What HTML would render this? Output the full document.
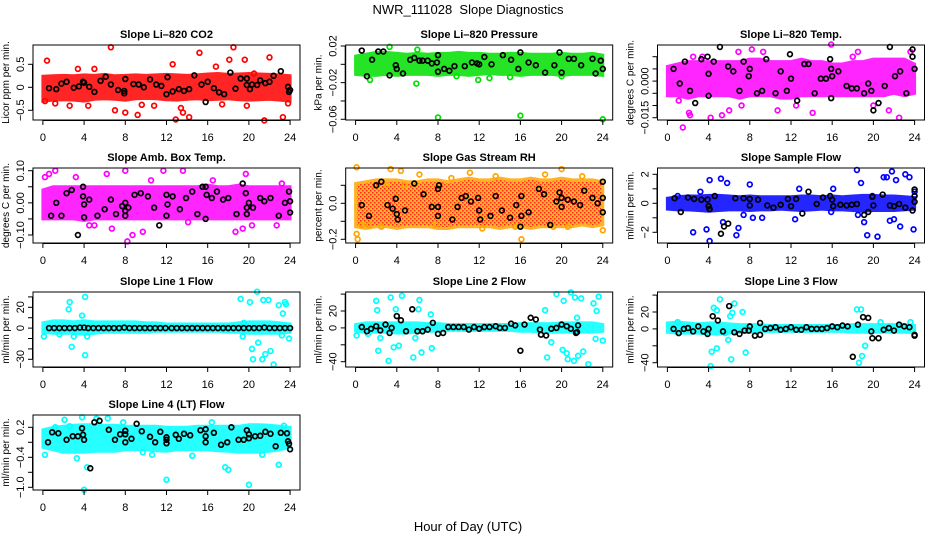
<!DOCTYPE html>
<html><head><meta charset="utf-8">
<style>
html,body{margin:0;padding:0;background:#fff;}
svg{display:block;font-family:"Liberation Sans",sans-serif;}
</style></head>
<body>
<svg id="c" width="936" height="540" viewBox="0 0 936 540">
<defs>
<pattern id="rhPat" width="4" height="4" patternUnits="userSpaceOnUse">
<rect width="4" height="4" fill="#ffa500"/>
<rect x="0" y="0" width="1.5" height="1.5" fill="#ff0000"/>
<rect x="2" y="2" width="1.5" height="1.5" fill="#ff0000"/>
</pattern>
</defs>
<text x="468" y="14" text-anchor="middle" font-size="13" xml:space="preserve">NWR_111028  Slope Diagnostics</text>
<text x="468" y="531" text-anchor="middle" font-size="13">Hour of Day (UTC)</text>
</svg>
<script>
const xTicks=[0,4,8,12,16,20,24];
const bandHours=[0,1,2,3,4,5,6,7,8,9,10,11,12,13,14,15,16,17,18,19,20,21,22,23,24];
// CO2
const co2Low=[-0.3,-0.28,-0.27,-0.28,-0.3,-0.26,-0.25,-0.26,-0.28,-0.25,-0.24,-0.25,-0.27,-0.28,-0.26,-0.25,-0.27,-0.26,-0.25,-0.27,-0.28,-0.27,-0.26,-0.28,-0.3];
const co2High=[0.24,0.25,0.26,0.25,0.27,0.26,0.28,0.25,0.26,0.27,0.26,0.27,0.28,0.27,0.26,0.27,0.29,0.3,0.28,0.29,0.3,0.29,0.28,0.27,0.25];
const co2X=[0.4,6.6,15.2,18.5,18.1,22,7,8,9.2,12.9,13.6,14.2,21.5,23.3,4.4,10.8,17.4,19.8,3.4,5,12.6,19.6,20.5,0.2,23.8,1.2,13.4,16.8,9.6,2.6];
const co2Y=[0.58,0.87,0.75,0.87,0.6,0.65,-0.5,-0.55,-0.6,-0.7,-0.55,-0.65,-0.72,-0.65,-0.4,-0.4,-0.37,-0.4,0.4,0.4,0.5,0.6,0.3,-0.3,-0.35,-0.35,-0.45,0.45,-0.38,-0.4];
const co2BX=[0.6,1.3,1.8,2.3,3,3.5,3.9,4,4.5,5,5.6,6.1,6.6,7.3,7.9,7.9,8,8.8,9.3,9.8,10.4,11,11.5,12,12.1,12.6,13.2,13.7,14.2,14.7,15.4,15.8,16,16.6,17.1,17.6,18.2,18.7,19.2,19.8,19.8,20.1,20.3,20.8,21.1,21.6,22,22.4,23.1,23.8,23.9,24];
const co2BY=[-0.02,-0.04,0.08,0.12,-0.01,0.02,0.12,0.1,0.01,-0.1,0.14,0.23,0.06,-0.06,-0.08,-0.13,0.18,0.07,0.06,0,0.17,0.06,0.03,-0.15,0.22,-0.09,-0.04,-0.08,-0.04,0.26,0.06,-0.32,0.12,-0.02,-0.11,-0.15,0.32,-0.03,0.19,0.19,0.05,-0.04,0.06,0.05,0.15,0.09,0.12,0.25,0.35,0.01,-0.1,-0.06];
// Pressure
const presLow=[-0.011,-0.012,-0.012,-0.011,-0.012,-0.011,-0.011,-0.011,-0.012,-0.011,-0.011,-0.012,-0.011,-0.01,-0.011,-0.011,-0.012,-0.011,-0.011,-0.011,-0.012,-0.011,-0.011,-0.011,-0.012];
const presHigh=[0.009,0.011,0.013,0.013,0.012,0.011,0.012,0.011,0.012,0.012,0.013,0.012,0.012,0.011,0.011,0.012,0.012,0.011,0.011,0.011,0.012,0.011,0.011,0.012,0.01];
const presX=[5.9,8,16,24,11.9,13,1.4,3.3,6,15,9.8,20];
const presY=[-0.021,-0.058,-0.056,-0.06,-0.017,-0.015,-0.017,0.019,0.016,-0.014,-0.013,-0.013];
const presBX=[0.6,1.1,1.6,2.2,2.7,3.3,3.9,4,4.6,5.3,5.7,6.2,6.5,7,7.4,7.9,8,8,8.6,9.1,9.6,10.6,11.3,11.8,12,12.5,13.2,14.3,15.1,15.8,16,16.8,17.5,18.4,19.3,19.8,20,20.7,21.2,21.9,23,23.3,23.8,24];
const presBY=[0.015,-0.013,0.005,0.014,0.014,-0.012,-0.001,-0.005,-0.01,0.005,0.007,0.004,0.004,0.004,0.001,0.002,0.01,-0.008,-0.005,-0.007,-0.002,-0.002,0.002,0.001,0,0.008,0,0.01,0.005,-0.005,0.013,0.002,-0.001,-0.009,-0.001,0.013,-0.009,0.006,0.006,-0.001,0.006,-0.01,0.004,-0.005];
// Li-820 temp
const ltLow=[-0.006,-0.006,-0.007,-0.006,-0.006,-0.006,-0.006,-0.007,-0.006,-0.006,-0.006,-0.007,-0.007,-0.006,-0.006,-0.006,-0.006,-0.006,-0.006,-0.006,-0.006,-0.006,-0.005,-0.006,-0.005];
const ltHigh=[0.006,0.007,0.008,0.008,0.008,0.008,0.008,0.008,0.009,0.009,0.008,0.008,0.008,0.009,0.008,0.008,0.007,0.007,0.008,0.008,0.009,0.009,0.009,0.009,0.007];
const ltX=[1.5,2.2,4.2,6.9,8.2,15.9,22.5,23.6,2.5,1.1,6,7.2,12.5,18.5,20,2.1,5.3,14.1,21.5,10.7,3.4,9.3,18];
const ltY=[-0.019,-0.014,-0.015,0.012,0.013,0.015,-0.015,0.012,0.01,-0.008,-0.012,-0.01,-0.01,0.012,-0.01,-0.013,-0.014,-0.013,-0.012,-0.012,0.01,0.012,0.01];
const ltBX=[0.6,1.2,1.7,2.2,2.7,3.3,3.9,4,4,4.5,5.1,5.9,6.4,7,7.4,7.9,8,8.7,9.2,9.6,10.5,11,11.6,11.9,12,12.6,13.3,13.7,14.3,14.9,15.4,15.8,15.9,16,15.9,16.6,17.4,17.9,18.4,19.1,19.5,19.8,20,20.5,21.1,21.6,22.1,22.6,23.2,23.8,23.8,24];
const ltBY=[0.005,-0.001,0.008,-0.004,-0.009,0.009,0.01,0.003,-0.006,0.008,0.014,0.006,0.004,-0.004,0.008,0.002,0.005,-0.005,-0.004,0.009,-0.005,0.004,-0.004,0.011,0.001,-0.008,0.007,0.007,-0.005,0.001,0.001,0.009,0.005,0.002,-0.007,0.004,-0.002,-0.003,-0.003,-0.005,-0.001,-0.004,-0.012,-0.009,-0.002,0.014,0.002,0.004,-0.005,0.013,0.01,0.005];
// Amb box temp
const abLow=[-0.05,-0.05,-0.05,-0.05,-0.055,-0.05,-0.05,-0.05,-0.05,-0.05,-0.05,-0.05,-0.05,-0.05,-0.05,-0.05,-0.05,-0.05,-0.05,-0.05,-0.05,-0.05,-0.05,-0.05,-0.05];
const abHigh=[0.04,0.05,0.05,0.05,0.05,0.05,0.05,0.05,0.05,0.05,0.05,0.05,0.05,0.05,0.05,0.05,0.055,0.05,0.05,0.055,0.05,0.05,0.05,0.05,0.05];
const abX=[0.6,1.2,4.5,5,6.2,8,8.2,8.7,9.7,11.7,13.6,19.7,18.7,19.4,14.1,23.2,20.3,6.7,0.2,3.2,10.5,16.5,22.7];
const abY=[0.09,0.1,-0.07,-0.07,0.09,0.1,-0.12,-0.1,-0.09,0.1,0.1,0.09,-0.09,-0.08,-0.06,0.06,-0.07,-0.08,0.08,0.08,0.07,0.07,-0.07];
const abBX=[0.8,1.3,1.8,2.3,2.8,3.4,3.9,3.9,4,4,4.5,5.3,6,6.6,7.1,7.7,8,8,8,8.3,8.9,9.5,10.2,10.8,11.3,12,12,12.1,12.6,13.3,13.9,14.5,15,15.5,15.8,15.8,15.9,16.4,16.9,17.5,18,18.8,19.4,19.7,19.8,19.8,20,20.4,21.1,21.5,22.1,22.9,23.5,23.9,24,24];
const abBY=[-0.04,0,-0.04,0.03,0.04,-0.1,0.05,0.02,-0.005,-0.045,0.01,-0.04,-0.02,0.01,-0.035,-0.01,0,-0.025,-0.04,-0.015,0.025,0.03,0.02,-0.015,-0.07,0.025,-0.04,-0.005,0.02,-0.02,0.015,0.035,-0.035,0.05,0.05,-0.05,0.025,0.015,0.035,0.01,0.015,-0.035,0.06,0.03,-0.035,-0.015,0,-0.015,0.015,0.005,0.015,-0.04,0,0.035,0.005,-0.03];
// Gas RH
const rhLow=[-0.13,-0.14,-0.13,-0.13,-0.14,-0.13,-0.13,-0.13,-0.14,-0.14,-0.13,-0.13,-0.13,-0.13,-0.14,-0.13,-0.13,-0.14,-0.13,-0.13,-0.13,-0.13,-0.12,-0.13,-0.12];
const rhHigh=[0.11,0.12,0.13,0.13,0.13,0.12,0.12,0.13,0.13,0.12,0.13,0.14,0.13,0.13,0.14,0.13,0.13,0.14,0.13,0.13,0.14,0.13,0.13,0.13,0.12];
const rhX=[0.1,0.1,3.4,4.4,13.6,20,15.5,7.8,11.1,24,22,4.8,2.5,1.3,0.6,19.2,12.3,20.6,3,16.1,18.4,9.3,6.2,0.2];
const rhY=[0.2,-0.17,0.19,0.18,0.15,0.19,-0.13,-0.12,0.17,-0.15,0.15,0.1,-0.13,-0.12,-0.12,-0.13,-0.14,-0.13,0.1,-0.2,0.16,0.14,0.16,-0.2];
const rhBX=[0.6,1.3,2,2.5,3.1,3.6,3.9,4,4.1,4.8,5.7,6.6,7.4,8,8,8,8.1,9.4,9.9,10.3,10.7,11.2,11.9,12,12.1,13.1,13.6,14.2,15,15.6,16,16.1,16.1,16.8,17.8,18.3,18.9,19.5,19.8,20,20,20.6,21.2,21.8,22.2,23,23.5,24,24,24];
const rhBY=[-0.01,-0.07,0.1,0.12,-0.01,-0.03,0.025,-0.06,-0.09,-0.04,0.11,0.05,-0.02,-0.07,-0.02,0.08,0.1,-0.09,-0.02,0.03,0.04,0.01,0.03,-0.04,-0.09,-0.07,0.04,-0.04,-0.08,-0.01,-0.13,-0.07,0.04,-0.05,0.08,0.05,-0.12,0.01,0.06,0.03,-0.02,0.02,0.01,-0.01,0.07,0.03,0,0.12,0.03,-0.05];
// Sample flow
const sfLow=[-0.4,-0.45,-0.45,-0.5,-0.55,-0.5,-0.45,-0.45,-0.5,-0.45,-0.45,-0.4,-0.45,-0.5,-0.45,-0.4,-0.45,-0.45,-0.5,-0.55,-0.5,-0.5,-0.5,-0.45,-0.4];
const sfHigh=[0.35,0.45,0.5,0.5,0.55,0.55,0.5,0.45,0.5,0.45,0.45,0.45,0.45,0.5,0.5,0.45,0.5,0.45,0.5,0.55,0.55,0.5,0.5,0.45,0.4];
const sfX=[1,2.5,3.2,4.1,4.1,5.2,5.8,6.7,6.9,8,7.4,8.3,9.2,3.8,5.4,12.4,12.8,15.9,16.1,18.5,18.8,19.1,19.4,19.9,20.4,21,21.3,21.6,22,22.2,22.6,23.1,23.5,23.9,21.8,18.4,24];
const sfY=[0.5,-2,0.8,-2.6,1.6,1.7,1.4,-2.2,-1.7,1.3,-0.8,-1,-1,-1.8,-1.3,-1.1,1,-0.6,1,-0.8,1.4,-1.3,-2.2,0.5,-2.3,1.8,1.8,-1.2,-1.1,1.6,-1.6,2,1.8,-1.8,2.2,2.3,0.8];
const sfBX=[0.7,1.3,2,2.6,3.3,3.9,4,4.1,4.6,5.5,5.9,5.2,6.6,7.4,8,8,8.8,9.7,10.3,11,11.7,12,12.5,13.1,13.7,14.5,15.1,15.8,16,16.1,16.8,17.4,17.9,18.4,19.1,19.5,19.9,20,20.9,21.6,22,22.5,23.1,23.8,24,24,24];
const sfBY=[0.35,-0.6,0.4,0.3,0.25,0.25,-0.2,-0.4,0.5,-1.6,-1.4,-2.1,0.35,0.35,0.3,-0.15,0.25,-0.15,-0.3,-0.1,0.3,-0.2,0.3,-0.7,0.8,-0.05,0.4,0.5,0.25,-0.2,-0.1,-0.15,-0.1,-0.05,-0.8,-0.6,0.45,-0.15,0.6,-0.15,-0.2,-0.05,-0.3,-0.5,0.1,0.5,0.95];
// Line 1
const l1Low=[-4,-5,-5,-5,-6,-5,-4,-4,-4,-4,-4,-3,-3,-3,-3,-3,-3,-3,-4,-4,-5,-5,-5,-5,-4];
const l1High=[5,7,7,6,7,6,6,6,6,6,5,5,4,4,4,4,4,4,4,5,6,6,6,5,4];
const l1X=[0.1,2.5,2.6,2.8,3,3.8,4.1,4.1,4.3,19.2,19.4,20.1,20.3,20.4,20.9,21.3,21.4,21.9,21.6,22.1,22.4,22.9,23.3,23.5,23.6,23.9,20.8,19.5,23.2,1.6];
const l1Y=[-8,18,25,-18,-8,12,30,-26,-8,28,-8,25,-20,-30,-14,-30,27,27,-25,-22,-35,22,14,25,23,-10,35,5,-7,-6];
const l1BX=[0.6,1.1,1.6,2.1,2.6,3.1,3.6,4,4.4,4.9,5.4,5.9,6.4,6.9,7.4,7.9,8.4,8.9,9.4,9.9,10.4,10.9,11.4,11.9,12.5,13,13.5,14,14.5,15,15.5,16,16.5,17,17.5,18,18.5,19,19.5,20,20.5,21,21.5,22,22.5,23,23.5,24];
const l1BY=[0,0,0,0,0,0,0.5,0.5,0,0,0,0,0,0,0,0.5,0,0,0,0,0,0,0,0,0,0,0,0,0,0,0,0,0,0,0,0,0,0,0,0,0,0,0.5,0,0,0,0,0];
// Line 2
const l2Low=[-4,-5,-5,-5,-6,-6,-5,-4,-4,-3,-3,-3,-3,-3,-3,-3,-4,-4,-5,-5,-5,-5,-5,-5,-4];
const l2High=[4,6,6,6,6,6,6,5,5,4,4,4,4,4,4,4,5,5,5,5,6,6,6,6,4];
const l2X=[0.1,1.2,2,2.2,2.1,2.4,3.2,3.4,3.9,3.7,4.2,4.5,5.6,5.8,6.2,6.4,7.3,7.4,6.1,18.4,18.6,19,19.5,20.1,20.2,20.5,20.6,20.9,21.2,21.3,21.6,21.9,22.1,22.6,23.1,23.3,23.4,23.6,24,21.5];
const l2Y=[-9,-7,32,-27,21,-12,-39,36,22,-23,-21,38,-35,-12,33,-29,16,-24,22,21,-35,-17,40,-26,32,-30,-37,42,-39,36,-33,35,-28,-43,29,-13,20,37,-15,12];
const l2BX=[0.6,1.1,1.5,2,2.4,2.9,3.3,3.5,4,4.4,4.9,5.5,6,6.5,7,7.5,8,8.5,9,9.5,10,10.5,11,11.5,12,12.5,13,13.6,14,14.5,15.1,15.5,16,16.4,17,17.5,17.9,18,18.5,19,19.5,20,20.5,20.9,21.4,21.5,21.6];
const l2BY=[1,-4,-1,2,-3,4,-6,0,14,9,-4,22,-4,-4,-2,6,-7,-6,1,1,1,1,-2,1,-1,1,1,2,0,0,5,3,-27,4,12,10,-2,-8,-9,-1,0,4,2,-1,-6,-5,3];
// Line 3
const l3Low=[-4,-5,-5,-5,-6,-6,-5,-4,-4,-3,-3,-3,-3,-3,-3,-3,-3,-3,-4,-4,-4,-4,-4,-4,-4];
const l3High=[7,8,7,6,7,7,6,5,5,5,4,4,4,4,4,4,4,4,5,5,5,5,5,5,4];
const l3X=[4.5,4.8,5.1,4.3,4.8,5.9,6.2,6.5,6.3,6.1,7.3,7.6,5.6,4.2,18.4,18.8,18.6,18.9,19.2,20.7,1,23.6];
const l3Y=[25,22,35,-27,-23,-13,-36,30,19,15,20,-28,-5,-44,23,23,-40,-32,-20,8,8,8];
const l3BX=[0.6,1.1,1.6,2,2.5,3,3.5,3.9,4,4.4,4.9,5.4,6,6.5,7,7.5,7.9,8,8.5,9,9,9.5,10,10.5,11,11.5,12,12.5,13,13.5,14,14.5,15,15.5,16,16.5,17,17.5,18,18.5,19,19.5,19.8,19.9,20.5,21,21.5,22,22.5,23,23.5,24,24];
const l3BY=[0,-5,0,1,-3,3,-3,-6,0,15,10,-3,27,-4,-6,-2,-2,3,-8,-7,7,0,1,2,-1,0,2,-1,-1,2,0,0,0,1,3,2,4,3,-33,5,14,13,-3,-11,-11,-1,1,-2,5,3,2,-7,-8];
// Line 4
const l4Low=[-0.2,-0.25,-0.3,-0.3,-0.3,-0.28,-0.28,-0.28,-0.25,-0.25,-0.25,-0.27,-0.28,-0.25,-0.25,-0.25,-0.25,-0.27,-0.28,-0.3,-0.3,-0.3,-0.28,-0.25,-0.2];
const l4High=[0.15,0.2,0.22,0.24,0.25,0.25,0.24,0.24,0.22,0.22,0.22,0.22,0.2,0.2,0.2,0.22,0.22,0.22,0.22,0.22,0.25,0.25,0.24,0.22,0.2];
const l4X=[0.2,1.2,2.1,3.3,3.8,4,4.3,5.2,6.3,12,14.5,17.7,18,20,22.9,23.4,16.4,10.6,9.7,2.6,21.3,7.8];
const l4Y=[-0.35,0.2,0.35,-0.42,0.4,-1.05,-0.6,0.37,0.38,-0.85,-0.37,-0.6,-0.65,-0.95,-0.55,0.23,0.3,-0.35,-0.3,0.22,-0.35,0.3];
const l4BX=[0.5,0.9,1.5,2.3,2.9,3.4,3.8,3.9,4,4.6,5,5.5,6.4,7,7.5,8,8,8,8.6,9.1,9.6,10.4,10.9,11.4,12,12,12,12.9,13.2,13.7,14.3,15.3,15.8,15.8,15.8,16.6,17.3,17.9,18.3,19,19.5,19.8,20,20,20.6,21.1,21.6,22.1,22.6,23.1,23.7,23.8,23.9,24];
const l4BY=[-0.1,0.1,0.08,-0.05,0.02,0.02,0.18,0.05,-0.05,-0.62,0.3,0.33,0.15,-0.05,0.06,0.13,0.06,-0.1,-0.03,0.27,0.12,0.01,-0.1,0.11,0,-0.05,-0.12,0.05,-0.03,0.07,0.04,0.14,0.16,0.02,-0.1,0.09,-0.15,-0.1,0.2,-0.05,-0.05,0.14,0.06,-0.02,0.02,0.03,0.11,0.07,-0.18,0.09,0.08,-0.08,-0.13,-0.24];

const NS="http://www.w3.org/2000/svg";
const svg=document.getElementById('c');
const colLeft=[33,345.7,657.5];
const rowTop=[45,168,292,415];
const W=267,H=75;
function mk(tag,attrs,parent){const e=document.createElementNS(NS,tag);for(const k in attrs)e.setAttribute(k,attrs[k]);(parent||svg).appendChild(e);return e;}

const panels=[
 {id:'co2',title:'Slope Li\u2013820 CO2',ylab:'Licor ppm per min.',col:0,row:0,color:'#ff0000',sc:[0.5,64.3,-0.5,110.3],ticks:[-0.5,0,0.5],labels:['\u22120.5','0','0.5'],low:co2Low,high:co2High,x:co2X,y:co2Y,bx:co2BX,by:co2BY},
 {id:'pressure',title:'Slope Li\u2013820 Pressure',ylab:'kPa per min.',col:1,row:0,color:'#00e000',sc:[0.02,46,-0.06,119.3],ticks:[-0.06,-0.04,-0.02,0,0.02],labels:['\u22120.06','','\u22120.02','','0.02'],low:presLow,high:presHigh,x:presX,y:presY,bx:presBX,by:presBY},
 {id:'li820-temp',title:'Slope Li\u2013820 Temp.',ylab:'degrees C per min.',col:2,row:0,color:'#ff00ff',sc:[0.01,56.7,-0.015,117.7],ticks:[-0.015,-0.01,-0.005,0,0.005,0.01],labels:['\u22120.015','','','0.000','',''],low:ltLow,high:ltHigh,x:ltX,y:ltY,bx:ltBX,by:ltBY},
 {id:'amb-box-temp',title:'Slope Amb. Box Temp.',ylab:'degrees C per min.',col:0,row:1,color:'#ff00ff',sc:[0.1,170.7,-0.1,235],ticks:[-0.1,-0.05,0,0.05,0.1],labels:['\u22120.10','','0.00','','0.10'],low:abLow,high:abHigh,x:abX,y:abY,bx:abBX,by:abBY},
 {id:'gas-stream-rh',title:'Slope Gas Stream RH',ylab:'percent per min.',col:1,row:1,color:'#ffa500',fill:'url(#rhPat)',sc:[0,203.3,-0.2,239.3],ticks:[-0.2,-0.1,0,0.1],labels:['\u22120.2','','0.0',''],low:rhLow,high:rhHigh,x:rhX,y:rhY,bx:rhBX,by:rhBY},
 {id:'sample-flow',title:'Slope Sample Flow',ylab:'ml/min per min.',col:2,row:1,color:'#0000ff',sc:[2,174.3,-2,232.3],ticks:[-2,-1,0,1,2],labels:['\u22122','','0','','2'],low:sfLow,high:sfHigh,x:sfX,y:sfY,bx:sfBX,by:sfBY},
 {id:'line1-flow',title:'Slope Line 1 Flow',ylab:'ml/min per min.',col:0,row:2,color:'#00ffff',sc:[20,307.3,-30,359.3],ticks:[-30,-20,-10,0,10,20,30],labels:['\u221230','','','0','','20',''],low:l1Low,high:l1High,x:l1X,y:l1Y,bx:l1BX,by:l1BY},
 {id:'line2-flow',title:'Slope Line 2 Flow',ylab:'ml/min per min.',col:1,row:2,color:'#00ffff',sc:[20,311,-40,361.7],ticks:[-40,-20,0,20,40],labels:['\u221240','','0','20',''],low:l2Low,high:l2High,x:l2X,y:l2Y,bx:l2BX,by:l2BY},
 {id:'line3-flow',title:'Slope Line 3 Flow',ylab:'ml/min per min.',col:2,row:2,color:'#00ffff',sc:[20,312,-40,362.7],ticks:[-40,-20,0,20,40],labels:['\u221240','','0','20',''],low:l3Low,high:l3High,x:l3X,y:l3Y,bx:l3BX,by:l3BY},
 {id:'line4-flow',title:'Slope Line 4 (LT) Flow',ylab:'ml/min per min.',col:0,row:3,color:'#00ffff',sc:[0.2,427.3,-1.0,487.3],ticks:[-1,-0.7,-0.4,-0.1,0.2],labels:['\u22121.0','','\u22120.4','','0.2'],low:l4Low,high:l4High,x:l4X,y:l4Y,bx:l4BX,by:l4BY}
];

panels.forEach(p=>{
  const L=colLeft[p.col],T=rowTop[p.row],B=T+H;
  const xs=h=>L+(h+0.96)*10.3;
  const ys=v=>p.sc[1]+(v-p.sc[0])*(p.sc[3]-p.sc[1])/(p.sc[2]-p.sc[0]);
  const g=mk('g',{});
  
  
  const t=mk('text',{x:L+W/2,y:T-7,'text-anchor':'middle','font-size':'11','font-weight':'bold'},g);
  t.textContent=p.title;
  
  
  let pts=bandHours.map((h,i)=>xs(h)+','+ys(p.high[i]));
  pts=pts.concat(bandHours.slice().reverse().map((h,j)=>{const i=bandHours.length-1-j;return xs(h)+','+ys(p.low[i]);}));
  const band=mk('polygon',{points:pts.join(' '),fill:p.fill||p.color,stroke:p.color,'stroke-width':'3','opacity':'0.85'},g);
  
  
  p.x.forEach((h,i)=>{
    const c=mk('circle',{cx:xs(h),cy:ys(p.y[i]),r:'2.4',fill:'none',stroke:p.color,'stroke-width':'1.7'},g);
    
    
  });
  p.bx.forEach((h,i)=>{
    const c=mk('circle',{cx:xs(h),cy:ys(p.by[i]),r:'2.4',fill:'none',stroke:'#000','stroke-width':'1.7'},g);
    
    
  });
  const box=mk('rect',{x:L,y:T,width:W,height:H,fill:'none',stroke:'#000','stroke-width':'1'},g);
  
  
  const xa=mk('g',{},g);
  
  
  mk('line',{x1:xs(0),x2:xs(24),y1:B+0.5,y2:B+0.5,stroke:'#000'},xa);
  xTicks.forEach(v=>{
    mk('line',{x1:xs(v),x2:xs(v),y1:B,y2:B+5,stroke:'#000'},xa);
    const tl=mk('text',{x:xs(v),y:B+21,'text-anchor':'middle','font-size':'11'},xa);
    tl.textContent=v;
    
    
  });
  const ya=mk('g',{},g);
  
  
  mk('line',{x1:L-0.5,x2:L-0.5,y1:ys(p.ticks[0]),y2:ys(p.ticks[p.ticks.length-1]),stroke:'#000'},ya);
  p.ticks.forEach((v,i)=>{
    const y=ys(v);
    mk('line',{x1:L-5,x2:L,y1:y,y2:y,stroke:'#000'},ya);
    if(p.labels[i]){
      const tl=mk('text',{x:L-9,y:y,'text-anchor':'middle','font-size':'11',transform:'rotate(-90 '+(L-9)+' '+y+')'},ya);
      tl.textContent=p.labels[i];
      
      
    }
  });
  const yl=mk('text',{x:L-24,y:T+H/2,'text-anchor':'middle','font-size':'10',transform:'rotate(-90 '+(L-24)+' '+(T+H/2)+')'},g);
  yl.textContent=p.ylab;
  
  
});
</script>
</body></html>
